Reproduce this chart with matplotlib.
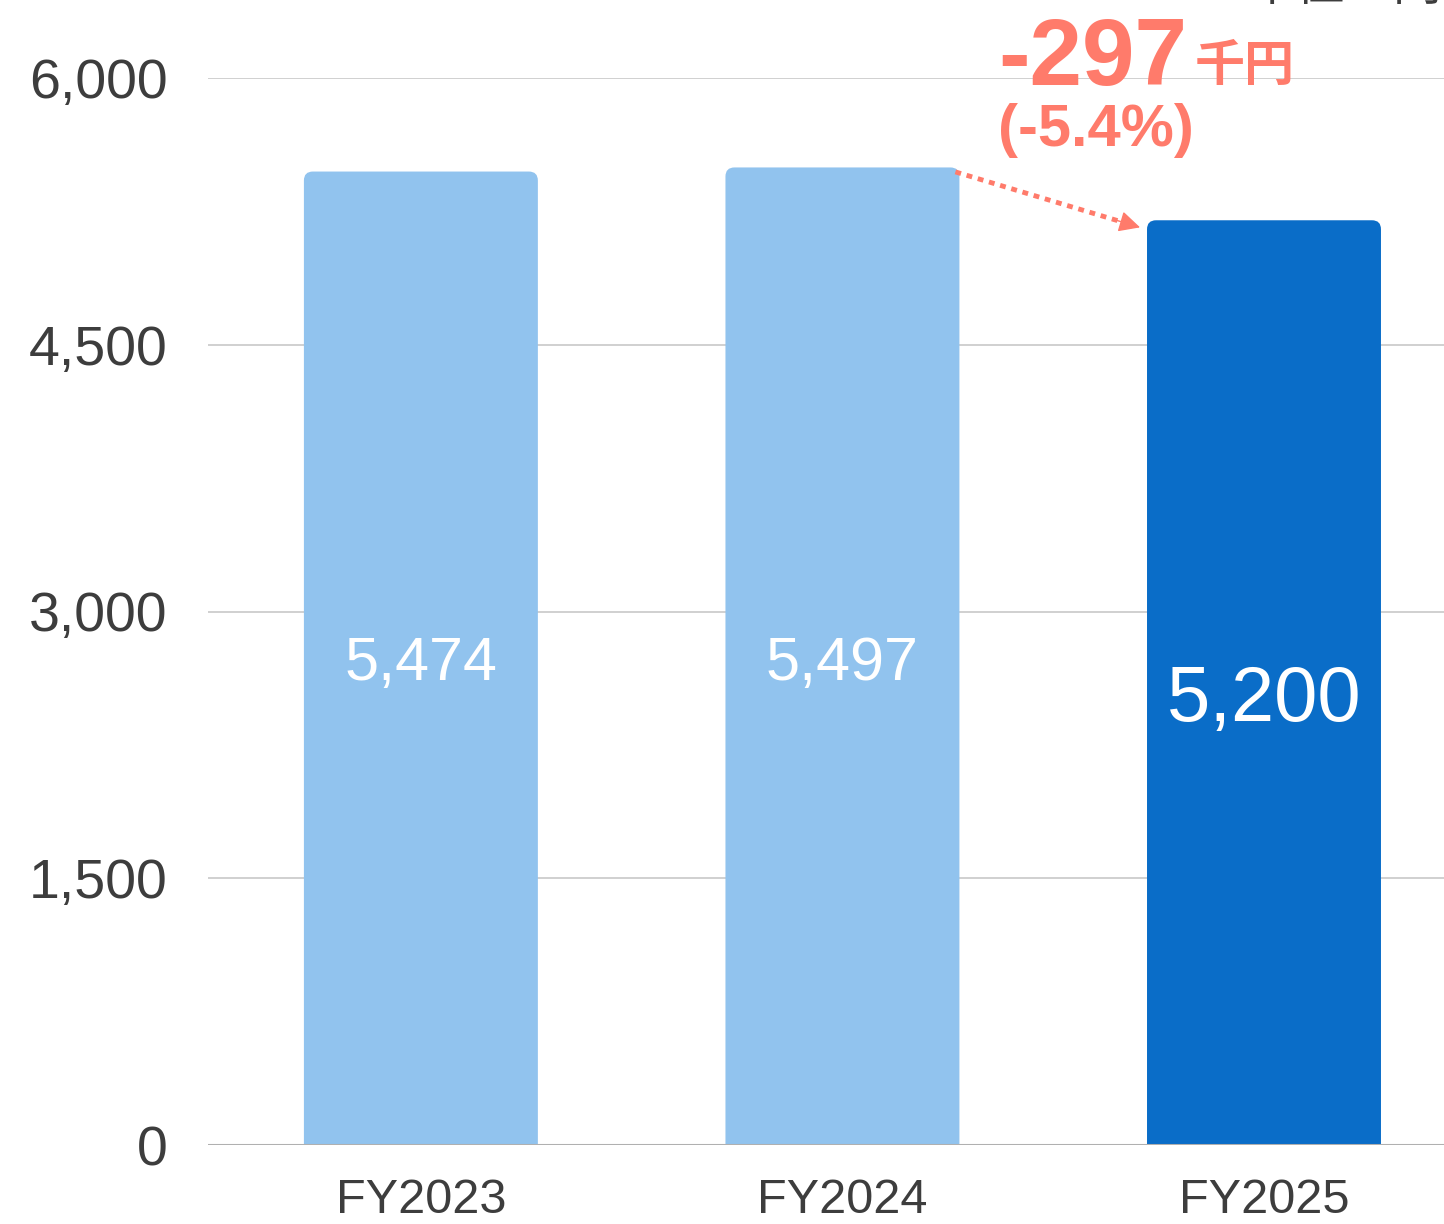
import matplotlib
matplotlib.use("Agg")
import matplotlib.pyplot as plt
from matplotlib.patches import PathPatch
from matplotlib.path import Path

plt.rcParams["font.family"] = ["Liberation Sans", "Noto Sans CJK JP", "DejaVu Sans"]

# ------------------------------------------------------------
# DATA
# ------------------------------------------------------------
years = ["FY2023", "FY2024", "FY2025"]
values = [5474, 5497, 5200]
bar_colors = ["#91C3EE", "#91C3EE", "#0A6DC8"]
yticks = [0, 1500, 3000, 4500, 6000]
diff_label = "-297"
diff_unit = "千円"
diff_pct = "(-5.4%)"
unit_label = "単位：円"

SALMON = "#FF7B6B"
TEXT = "#3d3d3d"

fig = plt.figure(figsize=(14.44, 12.24), dpi=100)
ax = fig.add_axes([208 / 1444, 1 - 1145 / 1224, 1236 / 1444, 1067 / 1224])

x = list(range(len(years)))
bars = ax.bar(x, values, width=0.555, color=bar_colors, zorder=3)

ax.set_xlim(-0.505, 2.427)
ax.set_ylim(0, 6000)

# swap each bar for the same shape with rounded top corners
px_x = 1236 / (2.427 + 0.505)
px_y = 1067 / 6000
rx = 9 / px_x
ry = 9 / px_y
for b in bars:
    b.set_visible(False)
    x0_, w, h = b.get_x(), b.get_width(), b.get_height()
    x1_ = x0_ + w
    verts = [(x0_, 0), (x0_, h - ry), (x0_, h), (x0_ + rx, h),
             (x1_ - rx, h), (x1_, h), (x1_, h - ry), (x1_, 0), (x0_, 0)]
    codes = [Path.MOVETO, Path.LINETO, Path.CURVE3, Path.CURVE3,
             Path.LINETO, Path.CURVE3, Path.CURVE3, Path.LINETO, Path.CLOSEPOLY]
    ax.add_patch(PathPatch(Path(verts, codes), fc=b.get_facecolor(),
                           ec="none", zorder=3))

# value labels
for i, v in enumerate(values):
    big = i == len(values) - 1
    ax.text(i, 2500 if big else 2700, f"{v:,}", color="white",
            fontsize=56 if big else 44, ha="center", va="center", zorder=4)

# axes styling
ax.set_yticks(yticks)
ax.set_yticklabels([f"{t:,}" for t in yticks], fontsize=40, color=TEXT)
ax.set_xticks(x)
ax.set_xticklabels(years, fontsize=35, color=TEXT)
ax.tick_params(axis="both", length=0)
ax.tick_params(axis="y", pad=29)
ax.tick_params(axis="x", pad=24)
for s in ax.spines.values():
    s.set_visible(False)
ax.grid(axis="y", color="#c4c4c4", linewidth=1.1, zorder=0)
ax.axhline(0, color="#b0b0b0", linewidth=2.2, zorder=4)

# change arrow: dotted shaft + solid head
x0, y0 = 1.268, values[1] - 25
x1, y1 = 1.706, values[2] - 40
ax.plot([x0, x1 - 0.05], [y0, y1 + (y0 - y1) * 0.05 / (x1 - x0)],
        color=SALMON, lw=3.5, linestyle=(0, (1.2, 1.2)),
        solid_capstyle="butt", dash_capstyle="butt", zorder=5)
ax.annotate("", xy=(x1, y1), xytext=(x1 - 0.06, y1 + (y0 - y1) * 0.06 / (x1 - x0)),
            arrowprops=dict(arrowstyle="-|>,head_length=1.3,head_width=0.65",
                            color=SALMON, lw=1, shrinkA=0, shrinkB=0),
            zorder=5)

fig.text(998 / 1444, 1 - 60 / 1224, diff_label, color=SALMON, fontsize=68,
         fontweight="bold", ha="left", va="center")
fig.text(1195 / 1444, 1 - 68 / 1224, diff_unit, color=SALMON, fontsize=36,
         fontweight="bold", ha="left", va="center")
fig.text(998 / 1444, 1 - 131 / 1224, diff_pct, color=SALMON, fontsize=43,
         fontweight="bold", ha="left", va="center")

# unit label, cropped at the top edge
fig.text(1442 / 1444, 1 - 0 / 1224, unit_label, color=TEXT, fontsize=35,
         ha="right", va="baseline")

fig.savefig("out.png", dpi=100)
